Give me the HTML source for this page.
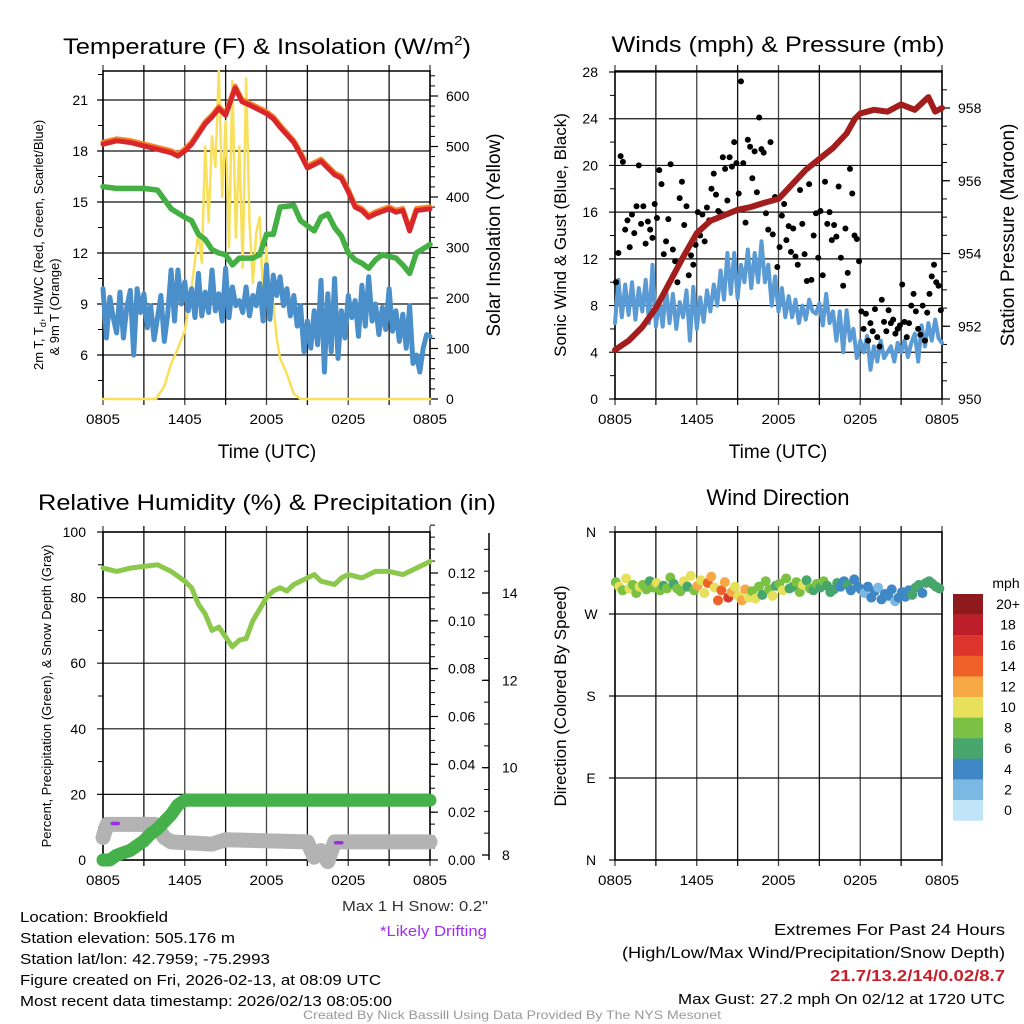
<!DOCTYPE html>
<html><head><meta charset="utf-8"><style>
html,body{margin:0;padding:0;background:#fff;}
svg{display:block;font-family:"Liberation Sans Narrow","Liberation Sans",sans-serif;}
</style></head><body>
<svg id="fig" width="1024" height="1024" viewBox="0 0 1024 1024" xmlns="http://www.w3.org/2000/svg">
<rect width="1024" height="1024" fill="#fff"/>
<g id="p1"></g>
<g id="p2"></g>
<g id="p3"></g>
<g id="p4"></g>
<g id="txt"></g>
</svg>
<script>
// ---------- data ----------
const xTickLabels = ["0805","1405","2005","0205","0805"];
const tempHours = [0,1,2,3,4,5,5.5,6,6.5,7,7.5,8,8.5,9,9.7,10.2,10.5,11,11.5,12,12.5,13,14,14.5,15,15.5,16,16.5,17,17.5,18,18.5,19,19.5,20,21,21.5,22,22.5,23,24];
const tempRed = [18.4,18.6,18.5,18.3,18.1,17.9,17.7,18.0,18.4,19.0,19.6,20.0,20.5,20.1,21.7,20.9,20.8,20.6,20.4,20.2,19.9,19.4,18.5,17.8,17.0,17.2,17.4,17.0,16.6,16.4,15.6,14.7,14.5,14.1,14.3,14.6,14.4,14.5,13.3,14.5,14.6];
const dewHours = [0,1,2,3,4,5,6,6.5,7,7.5,8,8.5,9,9.5,10,10.5,11,11.5,12,12.5,13,14,14.5,15,15.5,16,16.5,17,17.5,18,18.5,19,19.5,20,20.5,21,21.5,22,22.5,23,24];
const dewGreen = [15.9,15.8,15.8,15.8,15.7,14.6,14.1,13.9,13.1,12.8,12.2,12.0,11.9,11.3,11.7,11.7,11.7,11.9,13.1,13.1,14.7,14.8,13.9,13.6,13.3,14.1,14.3,13.5,13.0,12.0,11.6,11.4,11.1,11.6,11.9,11.8,11.7,11.3,10.8,12.0,12.5];
const windChill = [9.9,7.0,9.4,8.2, 7.3,9.7,7.0,8.8, 9.8,6.0,9.9,8.5, 9.6,7.6,8.9,6.9, 8.2,9.5,6.8,8.4, 11.0,8.0,11.0,9.0, 10.3,8.6,9.9,8.2, 10.8,8.3,9.7,8.5, 11.0,8.6,9.6,8.0, 11.1,8.2,10.0,8.9, 9.2,8.5,10.0,8.3, 9.5,8.9,10.2,8.0, 11.3,8.1,10.7,9.5, 10.6,8.9,9.9,8.3, 9.5,7.7,8.9,6.2, 8.0,6.4,8.6,6.6, 10.4,5.0,9.6,6.2, 10.5,5.8,8.6,7.0, 9.5,8.2,9.2,7.1, 10.1,7.7,10.6,8.0, 9.0,7.2,8.8,7.5, 9.9,7.4,8.6,6.8, 8.4,6.4,8.9,5.5, 6.0,5.0,6.4,7.2, 7.1];
const solarHours = [0,3.9,4,4.5,5,5.5,6,6.5,7,7.25,7.5,7.75,8,8.25,8.5,8.75,9,9.25,9.5,9.75,10,10.25,10.5,10.75,11,11.25,11.5,11.75,12,12.25,12.5,12.75,13,13.5,14,14.5,24];
const solar = [0,0,5,25,70,100,135,220,330,270,500,350,520,460,650,400,550,300,630,320,500,260,635,350,230,330,360,200,300,160,190,120,80,50,10,0,0];
const presHours = [0,1,2,3,4,5,6,7,8,9,10,11,12,13,14,15,16,17,17.6,18,19,20,21,22,23,23.5,24];
const pressure = [951.35,951.6,951.98,952.5,953.2,953.9,954.56,954.9,955.05,955.2,955.28,955.4,955.5,955.9,956.3,956.6,956.9,957.3,957.7,957.85,957.95,957.9,958.1,957.95,958.3,957.9,958.0];
const windSpeed = [6.5,10.2,7.0,9.8, 7.2,10.0,6.8,9.5, 7.5,10.2,6.5,11.5, 6.2,8.5,6.2,9.5, 6.5,9.0,6.0,8.3, 7.0,9.3,5.0,9.6, 6.0,8.7,6.6,9.3, 7.5,9.8,8.0,11.0, 8.5,12.5,9.0,12.5, 8.6,11.5,10.0,12.8, 9.5,12.5,10.0,13.5, 10.0,11.5,8.0,10.5, 7.5,9.5,7.0,8.8, 7.0,8.5,6.5,8.0, 6.8,8.5,7.5,7.3, 8.2,6.3,9.0,6.5, 7.5,5.0,7.5,4.0, 7.6,5.0,6.0,3.5, 5.0,4.0,5.4,2.5, 4.5,3.2,5.0,3.5, 4.0,4.5,3.2,4.8, 4.0,5.0,3.6,4.8, 5.6,3.2,6.3,4.5, 6.5,5.0,6.8,5.2, 4.8];
const windGust = [10,12.5,20.8,20.3,14.5,15.3, 13.0,15.8,14.2,16.5,20.0,15.0, 16.5,13.3,15.2,14.5,13.8,16.7, 15.5,19.6,18.4,12.4,13.5,15.4, 20.1,12.8,11.8,10.0,17.2,18.6, 14.9,16.5,10.6,12.3,11.5,13.2, 16.0,14.0,15.8,13.5,16.4,15.3, 18.0,19.3,17.5,16.1,15.9,20.7, 19.7,17.0,20.7,19.9,22.0,20.2, 17.6,27.2,20.2,15.1,22.2,21.6, 18.9,21.2,17.7,24.1,21.4,21.1, 15.9,14.5,22.0,14.1,17.3,11.3, 13.0,15.7,16.7,13.6,14.8,12.6, 14.6,12.2,11.5,17.9,15.0,12.4, 10.1,18.4,10.2,14.0,15.9,12.1, 16.1,10.6,18.6,15.0,16.0,13.6, 14.9,13.9,18.2,12.1,9.7,14.6, 10.8,19.7,17.6,14.0,13.7,11.8, 7.5,6.0,7.3,5.0,6.5,5.8, 7.7,5.3,4.5,8.5,6.6,5.8, 7.6,6.5,6.8,5.6,6.0,6.3, 9.8,6.6,5.3,6.5,8.0,9.0, 7.5,6.0,5.5,8.0,5.0,7.4, 9.0,10.5,11.5,10.0,9.7,7.6];
const rhHours = [0,1,2,3,4,5,6,6.5,7,7.5,8,8.5,9,9.5,10,10.5,11,12,12.5,13,13.5,14,15,15.5,16,17,17.5,18,19,20,21,22,23,24];
const rh = [89,88,89,89.5,90,88,85,83,78,75,70,71,68,65,67,67.5,73,80,82,83,82,84,86,87,85,84,86,87,86,88,88,87,89,91];
const precipHours = [0,0.5,1,1.5,2,2.5,3,3.5,4,4.5,5,5.5,6,24];
const precip = [0,0,0.002,0.003,0.004,0.006,0.008,0.011,0.013,0.016,0.019,0.023,0.025,0.025];
const snowHours = [0,0.3,3.8,4.5,5,8,9,15,15.5,16,16.5,17,24];
const snowDepth = [8.4,8.7,8.7,8.4,8.3,8.25,8.35,8.3,7.95,8.1,7.85,8.3,8.3];
const driftHours = [0.9,17.3];
const driftDepth = [8.72,8.28];
const dirValues = [305,300,296,309, 298,302,293,300, 302,297,306,299, 304,296,301,298, 310,303,298,295, 306,300,312,296, 301,307,293,304, 311,299,285,296, 305,288,294,300, 290,285,297,288, 295,287,300,291, 306,297,290,301, 303,296,309,298, 300,305,294,302, 307,298,296,303, 299,306,301,294, 297,304,300,306, 302,296,308,300, 297,293,300,288, 295,299,286,292, 290,297,284,288, 294,289,296,291, 299,302,293,304, 306,303,300,298];
const dirSpeeds = [8,10,7,9, 10,8,7,9, 7,8,6,8, 9,7,6,8, 7,6,8,7, 9,6,10,8, 11,10,9,13, 12,10,14,13, 11,15,12,10, 10,12,11,9, 8,9,7,6, 8,7,9,6, 7,9,8,6, 6,8,7,9, 6,7,6,8, 6,7,5,6, 5,6,4,4, 5,3,4,4, 3,2,4,3, 4,2,3,4, 3,4,2,4, 4,3,4,5, 5,6,4,6, 5,6,6,6];
const speedLabels = ["20+","18","16","14","12","10","8","6","4","2","0"];
const speedColors = ["#8e1a1c","#bd1e2a","#dc352b","#ef6129","#f6a845","#e6e05b","#7bc143","#47a66c","#3f87c5","#7cb8e4","#c0e4f8"];

// ---------- helpers ----------
const NS="http://www.w3.org/2000/svg";
function mk(parent,tag,attrs,text){const e=document.createElementNS(NS,tag);for(const k in attrs)e.setAttribute(k,attrs[k]);if(text!==undefined)e.textContent=text;parent.appendChild(e);return e;}
function lin(d0,d1,r0,r1){return v=>r0+(v-d0)*(r1-r0)/(d1-d0);}
function poly(g,xs,ys,fx,fy,attrs,name){
  const pts=xs.map((x,i)=>fx(x).toFixed(1)+","+fy(ys[i]).toFixed(1)).join(" ");
  const e=mk(g,"polyline",Object.assign({points:pts,fill:"none","stroke-linejoin":"round","stroke-linecap":"round"},attrs));
  
  
  return e;
}
function idx(n,step){return Array.from({length:n},(_,i)=>i*step);}
function txt(g,x,y,s,size,attrs,name){
  const e=mk(g,"text",Object.assign({x:x,y:y,"font-size":size,fill:"#000"},attrs||{}),s);
  
  
  return e;
}
const L=103,R=430,L2=615,R2=942,T1=71,B1=399,T2=532,B2=860;

function frame(g,x0,x1,y0,y1,hTicks){
  const fx=lin(0,24,x0,x1);
  for(let h=0;h<=24;h+=3){
    const e=mk(g,"line",{x1:fx(h),x2:fx(h),y1:y0-6,y2:y1+6,stroke:(h%6===3)?"#111":"#444","stroke-width":1.3});
    
    
  }
  hTicks.forEach(y=>{
    const e=mk(g,"line",{x1:x0-6,x2:x1,y1:y,y2:y,stroke:"#111","stroke-width":1.2});
    
    
  });
  mk(g,"rect",{x:x0,y:y0,width:x1-x0,height:y1-y0,fill:"none",stroke:"#000","stroke-width":1.5});
  xTickLabels.forEach((s,i)=>txt(g,fx(i*6),y1+25,s,14,{"text-anchor":"middle",textLength:34,lengthAdjust:"spacingAndGlyphs"},"x-tick-label"));
  return fx;
}
function minorTicks(g,x,yScale,from,to,step,dir){
  for(let v=from;v<=to+1e-9;v+=step){const y=yScale(v);mk(g,"line",{x1:x,x2:x+dir*5,y1:y,y2:y,stroke:"#000","stroke-width":1});}
}

// ---------- panel 1 ----------
(function(){
  const g=document.getElementById("p1");
  const fyT=lin(21,6,100,355), fyS=lin(0,600,399,96);
  const fx=frame(g,L,R,T1,B1,[6,9,12,15,18,21].map(fyT));
  minorTicks(g,L,fyT,4.5,22.5,1.5,-1);
  minorTicks(g,R,fyS,0,640,20,1);
  [0,100,200,300,400,500,600].forEach(v=>{mk(g,"line",{x1:R,x2:R+8,y1:fyS(v),y2:fyS(v),stroke:"#000","stroke-width":1.2});txt(g,446,fyS(v)+5,String(v),14,{},"right-tick-label");});
  [6,9,12,15,18,21].forEach(v=>txt(g,88,fyT(v)+5,String(v),14,{"text-anchor":"end"},"left-tick-label"));
  poly(g,solarHours,solar,fx,fyS,{stroke:"#f9e05a","stroke-width":2.5},"solar-insolation-line");
  poly(g,idx(97,0.25),windChill,fx,fyT,{stroke:"#4a8fc9","stroke-width":5},"wind-chill-line");
  poly(g,dewHours,dewGreen,fx,fyT,{stroke:"#44b043","stroke-width":5.5},"dewpoint-line");
  poly(g,tempHours,tempRed.map(v=>v+0.12),fx,fyT,{stroke:"#f6852c","stroke-width":5},"9m-temperature-line");
  poly(g,tempHours,tempRed,fx,fyT,{stroke:"#d9262a","stroke-width":5},"2m-temperature-line");
  const tt=txt(g,267,54,"",22,{"text-anchor":"middle",textLength:408,lengthAdjust:"spacingAndGlyphs"},"chart-title");
  tt.innerHTML='Temperature (F) &amp; Insolation (W/m<tspan dy="-9" font-size="13">2</tspan><tspan dy="9">)</tspan>';
  txt(g,267,458,"Time (UTC)",19,{"text-anchor":"middle"},"x-axis-title");
  const y1=txt(g,0,0,"",13,{transform:"translate(43,370) rotate(-90)"},"y-axis-title-line1");
  y1.innerHTML='2m T, T<tspan dy="3" font-size="9">d</tspan><tspan dy="-3">, HI/WC (Red, Green, Scarlet/Blue)</tspan>';
  txt(g,0,0,"& 9m T (Orange)",13,{transform:"translate(59,307) rotate(-90)","text-anchor":"middle"},"y-axis-title-line2");
  txt(g,0,0,"Solar Insolation (Yellow)",19,{transform:"translate(500,235) rotate(-90)","text-anchor":"middle"},"right-axis-title");
})();

// ---------- panel 2 ----------
(function(){
  const g=document.getElementById("p2");
  const fyW=lin(0,28,399,72), fyP=lin(950,958,399,108);
  const fx=frame(g,L2,R2,T1,B1,[0,4,8,12,16,20,24,28].map(fyW));
  minorTicks(g,L2,fyW,2,26,4,-1);
  minorTicks(g,R2,fyP,950,958.8,0.5,1);
  [950,952,954,956,958].forEach(v=>{mk(g,"line",{x1:R2,x2:R2+8,y1:fyP(v),y2:fyP(v),stroke:"#000","stroke-width":1.2});txt(g,958,fyP(v)+5,String(v),14,{},"right-tick-label");});
  [0,4,8,12,16,20,24,28].forEach(v=>txt(g,598,fyW(v)+5,String(v),14,{"text-anchor":"end"},"left-tick-label"));
  poly(g,idx(97,0.25),windSpeed,fx,fyW,{stroke:"#5b9bd5","stroke-width":4},"sonic-wind-line");
  windGust.forEach((v,i)=>{
    const c=mk(g,"circle",{cx:fx(i*24/windGust.length+0.08),cy:fyW(v),r:3,fill:"#000"});
    
    
  });
  poly(g,presHours,pressure,fx,fyP,{stroke:"#a31d1d","stroke-width":6},"station-pressure-line");
  txt(g,778,52,"Winds (mph) & Pressure (mb)",22,{"text-anchor":"middle",textLength:333,lengthAdjust:"spacingAndGlyphs"},"chart-title");
  txt(g,778,458,"Time (UTC)",19,{"text-anchor":"middle"},"x-axis-title");
  txt(g,0,0,"Sonic Wind & Gust (Blue, Black)",17,{transform:"translate(566,235) rotate(-90)","text-anchor":"middle"},"y-axis-title");
  txt(g,0,0,"Station Pressure (Maroon)",19,{transform:"translate(1014,235) rotate(-90)","text-anchor":"middle"},"right-axis-title");
})();

// ---------- panel 3 ----------
(function(){
  const g=document.getElementById("p3");
  const fyR=lin(0,100,860,532), fyPr=lin(0,0.12,860,573), fyS=lin(8,14,855,593);
  const fx=frame(g,L,R,T2,B2,[0,20,40,60,80,100].map(fyR));
  minorTicks(g,L,fyR,10,90,20,-1);
  minorTicks(g,R,fyPr,0,0.14,0.005,1);
  [0,0.02,0.04,0.06,0.08,0.10,0.12].forEach(v=>{mk(g,"line",{x1:R,x2:R+8,y1:fyPr(v),y2:fyPr(v),stroke:"#000","stroke-width":1.2});txt(g,448,fyPr(v)+5,v.toFixed(2),14,{},"precip-tick-label");});
  [0,20,40,60,80,100].forEach(v=>txt(g,86,fyR(v)+5,String(v),14,{"text-anchor":"end"},"left-tick-label"));
  mk(g,"line",{x1:489,x2:489,y1:533,y2:860,stroke:"#000","stroke-width":1.5});
  minorTicks(g,489,fyS,8,15.4,0.5,-1);
  [8,10,12,14].forEach(v=>{mk(g,"line",{x1:482,x2:489,y1:fyS(v),y2:fyS(v),stroke:"#000","stroke-width":1.3});txt(g,502,fyS(v)+5,String(v),14,{},"snow-tick-label");});
  poly(g,snowHours,snowDepth,fx,fyS,{stroke:"#b3b3b3","stroke-width":15},"snow-depth-line");
  driftHours.forEach((h,i)=>{
    const e=mk(g,"line",{x1:fx(h)-3,x2:fx(h)+3,y1:fyS(driftDepth[i]),y2:fyS(driftDepth[i]),stroke:"#9b30e0","stroke-width":3.5,"stroke-linecap":"round"});
    
    
  });
  poly(g,precipHours,precip,fx,fyPr,{stroke:"#46b04a","stroke-width":13},"precipitation-line");
  poly(g,rhHours,rh,fx,fyR,{stroke:"#8cc84b","stroke-width":5},"relative-humidity-line");
  txt(g,267,510,"Relative Humidity (%) & Precipitation (in)",22,{"text-anchor":"middle",textLength:458,lengthAdjust:"spacingAndGlyphs"},"chart-title");
  txt(g,0,0,"Percent, Precipitation (Green), & Snow Depth (Gray)",13,{transform:"translate(51,696) rotate(-90)","text-anchor":"middle"},"y-axis-title");
})();

// ---------- panel 4 ----------
(function(){
  const g=document.getElementById("p4");
  const fyD=lin(360,0,532,860);
  const fx=frame(g,L2,R2,T2,B2,[360,270,180,90,0].map(fyD));
  ["N","W","S","E","N"].forEach((s,i)=>txt(g,591,fyD(360-i*90)+5,s,14,{"text-anchor":"middle"},"direction-tick-label"));
  dirValues.forEach((d,i)=>{
    const k=Math.max(0,Math.min(10,Math.round(dirSpeeds[i]/2)));
    const c=mk(g,"circle",{cx:fx(i*0.25+0.06),cy:fyD(d),r:5,fill:speedColors[10-k]});
    
    
  });
  txt(g,778,505,"Wind Direction",22,{"text-anchor":"middle"},"chart-title");
  txt(g,0,0,"Direction (Colored By Speed)",17,{transform:"translate(566,696) rotate(-90)","text-anchor":"middle"},"y-axis-title");
  txt(g,1006,588,"mph",14,{"text-anchor":"middle"},"colorbar-title");
  speedLabels.forEach((s,i)=>{
    const r=mk(g,"rect",{x:953,y:594+i*20.6,width:30,height:20.8,fill:speedColors[i]});
    
    
    txt(g,1008,609+i*20.6,s,14,{"text-anchor":"middle"},"colorbar-label");
  });
})();

// ---------- annotations ----------
(function(){
  const g=document.getElementById("txt");
  const left=[["Location: Brookfield",148],["Station elevation: 505.176 m",215],["Station lat/lon: 42.7959; -75.2993",250],["Figure created on Fri, 2026-02-13, at 08:09 UTC",361],["Most recent data timestamp: 2026/02/13 08:05:00",372]];
  left.forEach((a,i)=>txt(g,20,922+i*21,a[0],15,{textLength:a[1],lengthAdjust:"spacingAndGlyphs"},"station-info-line"));
  txt(g,342,911,'Max 1 H Snow: 0.2"',15,{fill:"#333",textLength:146,lengthAdjust:"spacingAndGlyphs"},"max-snow-note");
  txt(g,380,936,"*Likely Drifting",15,{fill:"#a030f0",textLength:107,lengthAdjust:"spacingAndGlyphs"},"drifting-note");
  txt(g,774,935,"Extremes For Past 24 Hours",16,{textLength:231,lengthAdjust:"spacingAndGlyphs"},"extremes-title");
  txt(g,622,958,"(High/Low/Max Wind/Precipitation/Snow Depth)",16,{textLength:383,lengthAdjust:"spacingAndGlyphs"},"extremes-subtitle");
  txt(g,830,981,"21.7/13.2/14/0.02/8.7",16,{fill:"#c8202a","font-weight":"bold",textLength:175,lengthAdjust:"spacingAndGlyphs"},"extremes-values");
  txt(g,678,1004,"Max Gust: 27.2 mph On 02/12 at 1720 UTC",15,{textLength:327,lengthAdjust:"spacingAndGlyphs"},"max-gust-note");
  txt(g,303,1019,"Created By Nick Bassill Using Data Provided By The NYS Mesonet",12,{fill:"#999",textLength:418,lengthAdjust:"spacingAndGlyphs"},"credit-footer");
})();
</script>
</body></html>
